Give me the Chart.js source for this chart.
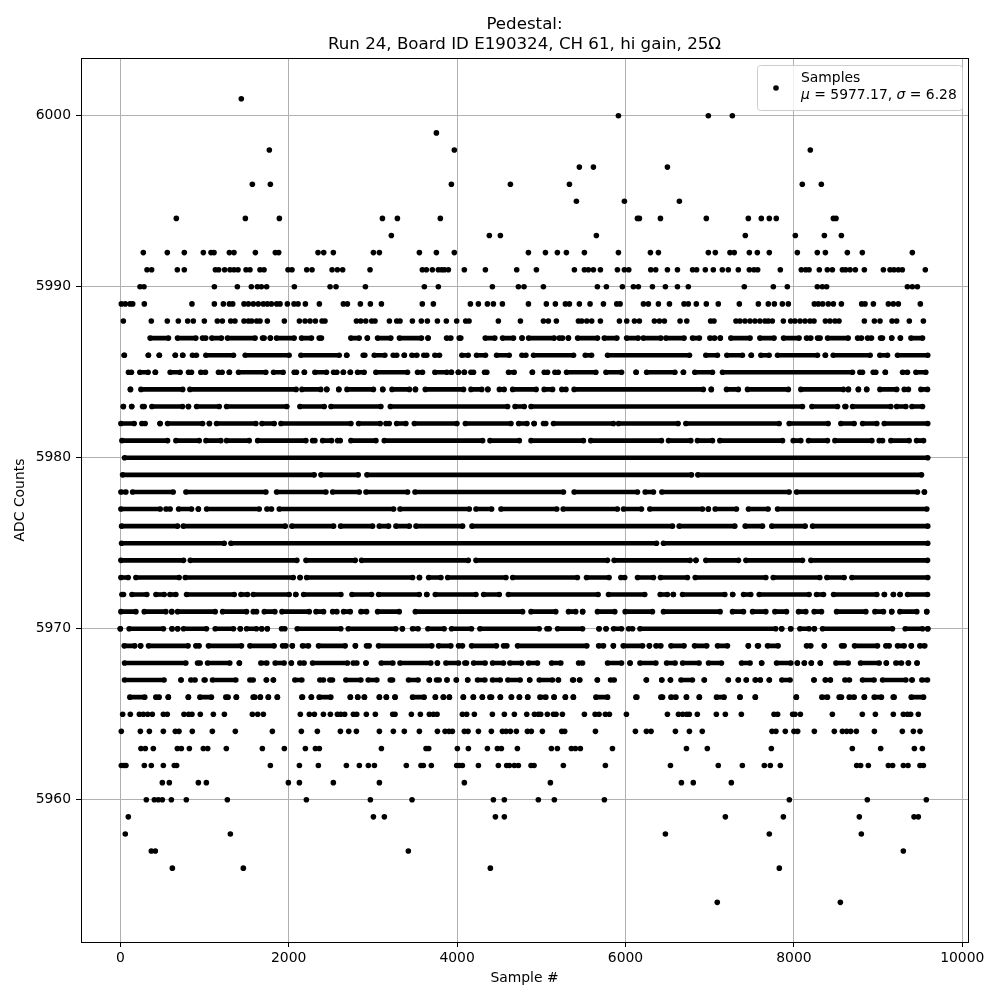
<!DOCTYPE html>
<html>
<head>
<meta charset="utf-8">
<title>Pedestal</title>
<script src="https://cdn.jsdelivr.net/npm/chart.js@4/dist/chart.umd.min.js"></script>
<style>
  html, body { margin: 0; background: #fff; }
  canvas { display: block; }
</style>
</head>
<body>
<canvas id="chart" width="1000" height="1000"></canvas>
<script>
const titleLines = ['Pedestal:', 'Run 24, Board ID E190324, CH 61, hi gain, 25Ω'];
const xTickValues = [0, 2000, 4000, 6000, 8000, 10000];
const yTickValues = [5960, 5970, 5980, 5990, 6000];

// Sparse rows: sample numbers, one per visible dot
const s6001 = [1437];
const s6000 = [5916, 6984, 7269];
const s5999 = [3754];
const s5998 = [1770, 3967, 8195];
const s5997 = [5452, 5619, 6498];
const s5996 = [1568, 1782, 3932, 4633, 5334, 8100, 8326];
const s5995 = [5417, 5987, 6640];
const s5994 = [665, 1485, 1889, 3113, 3291, 3801, 6142, 6165, 6415, 6960, 7459, 7613, 7708, 7791, 8469, 8500];
const s5993 = [3219, 4383, 4514, 5654, 7423, 8017, 8362, 8564];
const s5992 = [273, 558, 760, 986, 1077, 1113, 1295, 1350, 1604, 1841, 1881, 2348, 2416, 2530, 3006, 3077, 3552, 3754, 3967, 4847, 5049, 5191, 5298, 5512, 5916, 6296, 6391, 6984, 7067, 7241, 7292, 7471, 7566, 7708, 8041, 8278, 8374, 8635, 8813, 9407];
const s5991 = [317, 372, 677, 760, 1129, 1168, 1239, 1303, 1350, 1398, 1493, 1540, 1659, 1707, 1992, 2039, 2214, 2277, 2515, 2578, 2641, 2966, 3587, 3635, 3706, 3777, 3817, 3849, 3896, 4086, 4336, 4708, 4942, 5393, 5512, 5559, 5619, 5702, 5904, 5987, 6039, 6300, 6359, 6498, 6617, 6797, 6845, 6948, 7043, 7150, 7221, 7340, 7471, 7526, 7570, 7839, 8088, 8140, 8180, 8302, 8397, 8457, 8576, 8615, 8667, 8730, 8837, 9063, 9142, 9189, 9241, 9288, 9561];
const s5990 = [234, 281, 1117, 1390, 1556, 1628, 1675, 1738, 2067, 2491, 2562, 2911, 3611, 3777, 4419, 4728, 4795, 5025, 5666, 5773, 5963, 6094, 6153, 6320, 6474, 6617, 6746, 7411, 7756, 7922, 8278, 8338, 8389, 9348, 9407, 9467];
const s5989 = [12, 59, 115, 147, 285, 851, 1117, 1224, 1295, 1335, 1469, 1521, 1580, 1639, 1699, 1746, 1794, 1857, 1897, 1984, 2063, 2111, 2198, 2364, 2649, 2697, 2851, 2970, 3101, 3587, 3718, 4158, 4253, 4360, 4431, 4538, 4847, 5060, 5167, 5286, 5334, 5452, 5579, 5738, 5896, 5936, 6213, 6272, 6391, 6522, 6695, 6746, 6841, 6960, 7102, 7352, 7578, 7696, 7768, 7863, 7934, 8243, 8290, 8342, 8409, 8469, 8564, 8805, 8845, 8944, 9122, 9181, 9241, 9502];
const s5988 = [36, 368, 558, 689, 800, 867, 998, 1152, 1212, 1311, 1362, 1469, 1521, 1560, 1620, 1659, 1746, 1948, 2127, 2194, 2253, 2317, 2396, 2431, 2804, 2855, 2915, 2986, 3025, 3196, 3283, 3322, 3469, 3575, 3647, 3766, 3872, 3995, 4102, 4142, 4490, 4752, 5025, 5084, 5179, 5441, 5480, 5540, 5599, 5702, 5928, 6015, 6106, 6165, 6343, 6403, 6462, 6648, 6728, 7011, 7051, 7312, 7360, 7419, 7479, 7538, 7597, 7657, 7696, 7744, 7875, 7962, 8013, 8073, 8132, 8191, 8239, 8374, 8429, 8488, 8536, 8837, 8956, 9023, 9166, 9221, 9371, 9538];
const s5965 = [28, 119, 226, 273, 325, 380, 511, 558, 756, 812, 851, 950, 1105, 1236, 1568, 1632, 1699, 2138, 2245, 2305, 2412, 2495, 2578, 2618, 2665, 2768, 2808, 2922, 3029, 3235, 3263, 3457, 3564, 3670, 3718, 3762, 4063, 4114, 4205, 4419, 4561, 4680, 4827, 4918, 4965, 4993, 5072, 5144, 5175, 5251, 5512, 5639, 5686, 5761, 5809, 6011, 6498, 6629, 6680, 6728, 6758, 6853, 7079, 7186, 7376, 7764, 7807, 7985, 8013, 8077, 8457, 8813, 8968, 9181, 9300, 9348, 9387, 9478];
const s5964 = [12, 238, 345, 511, 653, 697, 855, 1093, 1366, 1806, 2150, 2340, 2614, 2713, 2804, 3077, 3243, 3373, 3552, 3766, 3857, 3904, 3944, 4086, 4130, 4253, 4407, 4538, 4581, 4633, 4704, 4835, 4882, 5013, 5243, 5278, 5643, 6118, 6248, 6304, 6593, 6759, 6912, 7740, 7787, 7898, 8001, 8045, 8243, 8480, 8576, 8627, 8675, 8742, 8956, 9288, 9419, 9498];
const s5963 = [245, 297, 392, 677, 725, 820, 986, 1038, 1259, 1687, 1948, 2198, 2317, 2364, 3101, 3631, 3663, 4003, 4134, 4360, 4478, 4526, 4716, 5120, 5191, 5357, 5405, 5464, 5845, 6724, 6972, 7732, 8694, 9031, 9431, 9526];
const s5962 = [12, 44, 67, 285, 368, 511, 641, 669, 1782, 2127, 2352, 2685, 2839, 2946, 3018, 3397, 3571, 3599, 3694, 3995, 4027, 4063, 4253, 4490, 4589, 4621, 4680, 4728, 4878, 4914, 5262, 5761, 6534, 7102, 7388, 7649, 7720, 7839, 8746, 8793, 8884, 9122, 9173, 9300, 9356, 9498, 9538];
const s5961 = [499, 582, 927, 1022, 1996, 2127, 2530, 3077, 4086, 5108, 6664, 6805, 7257];
const s5960 = [309, 404, 451, 499, 606, 784, 1271, 2210, 2970, 3465, 4431, 4561, 4965, 5155, 5749, 7946, 8872, 9573];
const s5959 = [95, 3006, 3136, 4455, 4561, 7186, 7875, 8777, 9427, 9478];
const s5958 = [59, 1307, 6474, 7708, 8801];
const s5957 = [368, 416, 3421, 9300];
const s5956 = [618, 1461, 4395, 7827];
const s5954 = [7090, 8552];

// Dense rows: the dots overlap into bars, so each entry is one unbroken stretch
// [first sample, last sample] as seen in the picture, not every single sample
const r5987 = [[354, 572], [679, 897], [976, 1015], [1087, 1201], [1273, 1601], [1689, 1708], [1782, 1782], [1855, 2065], [2152, 2270], [2362, 2389], [2738, 2837], [2934, 2934], [3055, 3213], [3315, 3577], [3655, 3655], [3875, 3926], [4025, 4044], [4334, 4448], [4540, 4670], [4771, 4771], [4849, 5153], [5213, 5252], [5322, 5322], [5431, 5668], [5748, 5898], [6013, 6151], [6211, 6420], [6480, 6696], [6796, 6878], [7002, 7060], [7126, 7126], [7251, 7480], [7596, 7765], [7877, 8062], [8150, 8201], [8281, 8312], [8400, 8645], [8756, 8803], [8875, 8922], [9029, 9052], [9162, 9162], [9265, 9265], [9390, 9528]];
const r5986 = [[47, 47], [333, 333], [463, 463], [653, 653], [741, 741], [857, 904], [1016, 1344], [1483, 2005], [2145, 2600], [2689, 2689], [2885, 2904], [3016, 3142], [3241, 3283], [3373, 3373], [3463, 3522], [3605, 3640], [3736, 3791], [4057, 4132], [4231, 4337], [4469, 4619], [4770, 4817], [4908, 5383], [5522, 5597], [5787, 6760], [6954, 7092], [7204, 7389], [7494, 7494], [7608, 7706], [7806, 8280], [8374, 8374], [8467, 8906], [9021, 9112], [9231, 9590]];
const r5985 = [[97, 132], [232, 330], [416, 416], [592, 710], [810, 845], [956, 1011], [1166, 1209], [1295, 1295], [1404, 1728], [1820, 1934], [2065, 2092], [2186, 2186], [2311, 2449], [2533, 2571], [2649, 2649], [2732, 2732], [2818, 2896], [3035, 3411], [3530, 3589], [3736, 3878], [3932, 3932], [4015, 4015], [4086, 4086], [4164, 4195], [4326, 4353], [4611, 4678], [4894, 4894], [5035, 5074], [5162, 5201], [5300, 5648], [5768, 5953], [6126, 6126], [6251, 6587], [6688, 6688], [6823, 7033], [7152, 8696], [8784, 8815], [8942, 8973], [9086, 9086], [9291, 9349], [9449, 9567]];
const r5984 = [[120, 120], [245, 741], [827, 2088], [2157, 2381], [2452, 2452], [2595, 2595], [2692, 3006], [3117, 3117], [3227, 3434], [3505, 3505], [3622, 4076], [4165, 4293], [4365, 4365], [4502, 4559], [4660, 4939], [5034, 5134], [5244, 5293], [5390, 6924], [7019, 7019], [7200, 7340], [7449, 7934], [8083, 8588], [8647, 8647], [8766, 8766], [8865, 8865], [9022, 9221], [9311, 9360], [9509, 9587]];
const r5983 = [[36, 36], [135, 135], [264, 284], [375, 739], [809, 809], [906, 1175], [1262, 1978], [2133, 2422], [2502, 3095], [3207, 4600], [4688, 4798], [4878, 8102], [8214, 8518], [8606, 8617], [8697, 9152], [9220, 9330], [9402, 9528]];
const r5982 = [[7, 165], [256, 295], [472, 472], [561, 977], [1058, 1058], [1143, 1610], [1682, 1828], [1908, 2739], [2830, 3087], [3155, 3194], [3282, 3392], [3492, 3998], [4098, 4640], [4731, 4830], [4915, 4915], [5026, 5053], [5145, 5857], [5917, 6625], [6717, 7825], [7944, 8407], [8558, 8716], [8816, 8985], [9073, 9590]];
const r5981 = [[19, 561], [660, 937], [1017, 1194], [1262, 1531], [1631, 2204], [2284, 2311], [2403, 2509], [2581, 2612], [2739, 3036], [3135, 4303], [4391, 4739], [4878, 5500], [5588, 6427], [6511, 6776], [6855, 7033], [7121, 7865], [7992, 8082], [8174, 8399], [8487, 8926], [9014, 9053], [9152, 9369], [9457, 9540]];
const r5980 = [[50, 9590]];
const r5979 = [[27, 2303], [2383, 2826], [2929, 6784], [6859, 9516]];
const r5978 = [[7, 66], [146, 628], [779, 1729], [1856, 2442], [2522, 2838], [2918, 3412], [3500, 5263], [5390, 6142], [6234, 6332], [6432, 7944], [8032, 9468], [9550, 9550]];
const r5977 = [[7, 474], [542, 592], [692, 846], [927, 927], [1025, 1650], [1741, 1796], [1888, 3246], [3322, 4145], [4224, 4410], [4521, 5184], [5260, 5904], [5976, 6190], [6289, 6914], [6984, 6984], [7065, 7318], [7461, 7694], [7806, 9579]];
const r5976 = [[15, 680], [748, 1959], [2038, 2533], [2617, 2996], [3076, 3186], [3274, 3432], [3512, 4065], [4177, 6558], [6638, 7298], [7422, 7627], [7738, 8134], [8222, 9590]];
const r5975 = [[15, 1234], [1314, 6368], [6451, 9590]];
const r5974 = [[7, 751], [831, 2097], [2205, 2790], [2866, 4133], [4224, 5786], [5865, 6768], [6837, 6837], [6954, 7342], [7430, 8102], [8202, 9587]];
const r5973 = [[7, 94], [185, 699], [771, 2054], [2135, 2135], [2213, 3471], [3553, 3553], [3662, 3808], [3888, 4580], [4660, 5429], [5537, 5805], [5945, 5991], [6143, 6332], [6416, 6736], [6828, 7667], [7754, 8308], [8392, 8597], [8689, 9590]];
const r5972 = [[19, 38], [138, 315], [423, 521], [589, 660], [787, 1353], [1433, 1511], [1579, 2006], [2084, 2084], [2177, 2620], [2751, 2984], [3068, 3551], [3640, 3640], [3741, 4224], [4315, 4501], [4609, 5675], [5798, 6229], [6412, 6498], [6568, 6568], [6677, 7180], [7273, 7273], [7402, 7488], [7588, 8181], [8269, 8352], [8471, 8985], [9075, 9075], [9182, 9182], [9261, 9261], [9350, 9587]];
const r5971 = [[7, 185], [284, 541], [611, 611], [680, 1127], [1215, 1499], [1579, 1618], [1710, 1836], [1920, 2244], [2324, 2414], [2522, 2572], [2652, 2731], [2858, 2925], [3056, 3313], [3504, 4778], [4878, 5172], [5323, 5409], [5491, 5491], [5667, 5873], [5996, 6320], [6451, 7124], [7271, 7401], [7509, 7667], [7774, 7912], [8055, 8142], [8241, 8328], [8507, 8855], [8962, 9064], [9162, 9162], [9259, 9460], [9578, 9578]];
const r5970 = [[0, 0], [105, 512], [614, 614], [681, 681], [750, 1023], [1127, 1344], [1425, 1425], [1499, 1617], [1679, 1679], [1746, 1746], [1915, 1954], [2101, 2619], [2707, 3272], [3350, 3350], [3471, 3537], [3653, 3846], [3934, 4171], [4271, 4975], [5067, 5094], [5193, 5490], [5686, 5686], [5769, 5769], [5859, 5953], [6037, 6084], [6172, 7785], [7855, 7855], [7962, 7962], [8071, 8181], [8243, 8243], [8340, 9171], [9322, 9528], [9590, 9590]];
const r5969 = [[46, 172], [241, 241], [335, 805], [897, 936], [1047, 1439], [1539, 1827], [1927, 1966], [2043, 2043], [2164, 2235], [2354, 2671], [2792, 2792], [2924, 2956], [3067, 3700], [3780, 3926], [4017, 4064], [4172, 4468], [4552, 4591], [4718, 5541], [5681, 5739], [5856, 5856], [5973, 6203], [6284, 6284], [6362, 6420], [6540, 6696], [6820, 6965], [7093, 7211], [7459, 7459], [7568, 7579], [7687, 7813], [8150, 8201], [8362, 8362], [8566, 8597], [8720, 8993], [9092, 9132], [9231, 9310], [9395, 9395], [9496, 9555]];
const r5968 = [[50, 778], [917, 948], [1036, 1300], [1414, 1414], [1669, 1740], [1839, 1946], [2031, 2031], [2132, 2183], [2283, 2698], [2766, 2809], [2918, 2918], [3099, 3237], [3322, 3688], [3766, 3766], [3867, 4017], [4092, 4112], [4196, 4333], [4421, 4551], [4627, 4765], [4849, 4955], [5122, 5232], [5443, 5490], [5787, 5953], [6054, 6054], [6172, 6361], [6488, 6590], [6678, 6874], [6986, 7140], [7378, 7480], [7617, 7617], [7794, 7963], [8041, 8041], [8124, 8124], [8207, 8207], [8314, 8314], [8499, 8645], [8792, 9013], [9098, 9098], [9211, 9278], [9360, 9360], [9463, 9463]];
const r5967 = [[50, 520], [721, 721], [838, 888], [996, 1007], [1095, 1372], [1539, 1578], [1735, 1735], [1818, 1818], [2073, 2156], [2370, 2413], [2489, 2520], [2679, 2857], [2944, 3047], [3206, 3233], [3423, 3537], [3670, 3670], [3756, 3787], [3880, 3880], [3991, 3991], [4126, 4126], [4243, 4330], [4421, 4512], [4603, 4749], [4862, 4862], [4976, 5133], [5203, 5203], [5372, 5383], [5456, 5456], [5666, 5666], [5823, 5866], [6248, 6248], [6431, 6431], [6534, 6534], [6659, 6795], [6936, 6936], [7221, 7221], [7340, 7340], [7435, 7435], [7542, 7542], [7601, 7601], [7708, 7708], [7857, 7955], [8239, 8239], [8374, 8374], [8433, 8433], [8606, 8660], [8815, 8953], [9053, 9330], [9403, 9403], [9520, 9587]];
const r5966 = [[113, 290], [422, 461], [570, 570], [808, 808], [945, 1082], [1253, 1280], [1378, 1378], [1578, 1597], [1663, 1663], [1758, 1758], [1865, 1865], [2156, 2164], [2269, 2269], [2362, 2500], [2732, 2732], [2820, 2820], [2899, 2899], [3077, 3077], [3160, 3160], [3263, 3263], [3471, 3609], [3742, 3742], [3837, 3837], [3908, 3908], [4074, 4074], [4193, 4193], [4300, 4300], [4390, 4409], [4514, 4514], [4645, 4645], [4740, 4740], [4839, 4839], [4984, 5054], [5152, 5152], [5286, 5286], [5381, 5381], [5649, 5787], [6124, 6135], [6421, 6440], [6540, 6599], [6724, 6724], [6877, 6877], [7081, 7171], [7360, 7360], [7542, 7542], [8029, 8029], [8332, 8399], [8538, 8565], [8657, 8716], [8837, 8837], [8954, 9040], [9180, 9191], [9394, 9540]];

const dotRows = [[6001, s6001], [6000, s6000], [5999, s5999], [5998, s5998], [5997, s5997], [5996, s5996], [5995, s5995], [5994, s5994], [5993, s5993], [5992, s5992], [5991, s5991], [5990, s5990], [5989, s5989], [5988, s5988], [5965, s5965], [5964, s5964], [5963, s5963], [5962, s5962], [5961, s5961], [5960, s5960], [5959, s5959], [5958, s5958], [5957, s5957], [5956, s5956], [5954, s5954]];
const runRows = [[5987, r5987], [5986, r5986], [5985, r5985], [5984, r5984], [5983, r5983], [5982, r5982], [5981, r5981], [5980, r5980], [5979, r5979], [5978, r5978], [5977, r5977], [5976, r5976], [5975, r5975], [5974, r5974], [5973, r5973], [5972, r5972], [5971, r5971], [5970, r5970], [5969, r5969], [5968, r5968], [5967, r5967], [5966, r5966]];

const fontName = '"DejaVu Sans", sans-serif';

const dotPoints = [];
dotRows.forEach(([adc, samples]) => samples.forEach(x => dotPoints.push({ x: x, y: adc })));

// A null y breaks the line between two stretches
const runPoints = [];
runRows.forEach(([adc, runs]) => runs.forEach(([a, b]) => {
    runPoints.push({ x: a, y: adc }, { x: b, y: adc }, { x: b, y: null });
}));

// Matplotlib style legend inside the axes, Chart.js only places its own outside
const sampleLegend = {
    id: 'sampleLegend',
    afterDraw(chart) {
        const ctx = chart.ctx;
        ctx.save();
        ctx.beginPath();
        ctx.roundRect(757.5, 65.5, 205, 45, 3);
        ctx.fillStyle = 'rgba(255,255,255,0.8)';
        ctx.fill();
        ctx.strokeStyle = '#cccccc';
        ctx.lineWidth = 1;
        ctx.stroke();

        ctx.fillStyle = '#000';
        ctx.beginPath();
        ctx.arc(776, 88, 2.8, 0, Math.PI * 2);
        ctx.fill();

        ctx.textBaseline = 'alphabetic';
        ctx.textAlign = 'left';
        ctx.font = '13.9px ' + fontName;
        ctx.fillText('Samples', 801, 82);

        let x = 801;
        [['μ', true], [' = 5977.17, ', false], ['σ', true], [' = 6.28', false]].forEach(([part, italic]) => {
            ctx.font = (italic ? 'italic ' : '') + '13.9px ' + fontName;
            ctx.fillText(part, x, 99);
            x += ctx.measureText(part).width;
        });
        ctx.restore();
    }
};

new Chart(document.getElementById('chart'), {
    type: 'scatter',
    data: {
        datasets: [{
            label: 'Samples',
            data: dotPoints,
            showLine: false,
            pointRadius: 2.8,
            pointBorderWidth: 0,
            pointBackgroundColor: '#000'
        }, {
            label: 'Samples, dense rows',
            data: runPoints,
            showLine: true,
            spanGaps: false,
            borderColor: '#000',
            borderWidth: 4.6,
            pointRadius: 2.8,
            pointBorderWidth: 0,
            pointBackgroundColor: '#000'
        }]
    },
    options: {
        responsive: false,
        animation: false,
        layout: { padding: { right: 32, bottom: 0 } },
        plugins: {
            legend: { display: false },
            tooltip: { enabled: false },
            title: {
                display: true,
                fullSize: false,
                text: titleLines,
                color: '#000',
                font: { family: fontName, size: 16.67, weight: 'normal', lineHeight: 1.2 },
                padding: { top: 15, bottom: 3 }
            }
        },
        scales: {
            x: {
                type: 'linear',
                min: -467,
                max: 10068,
                afterFit(scale) { scale.height = 58; },
                afterBuildTicks(scale) { scale.ticks = xTickValues.map(v => ({ value: v })); },
                title: { display: true, text: 'Sample #', color: '#000', font: { family: fontName, size: 13.9 }, padding: { top: 2, bottom: 13 } },
                ticks: { color: '#000', font: { family: fontName, size: 13.9 }, padding: 3, maxRotation: 0, callback: v => String(v) },
                grid: { color: '#b0b0b0', lineWidth: 1, tickColor: '#000', tickLength: 5 },
                border: { color: '#000', width: 1 }
            },
            y: {
                type: 'linear',
                min: 5951.68,
                max: 6003.38,
                afterFit(scale) { scale.width = 81; },
                afterBuildTicks(scale) { scale.ticks = yTickValues.map(v => ({ value: v })); },
                title: { display: true, text: 'ADC Counts', color: '#000', font: { family: fontName, size: 13.9 }, padding: { top: 12, bottom: 2 } },
                ticks: { color: '#000', font: { family: fontName, size: 13.9 }, padding: 5, callback: v => String(v) },
                grid: { color: '#b0b0b0', lineWidth: 1, tickColor: '#000', tickLength: 5 },
                border: { color: '#000', width: 1 }
            }
        }
    },
    plugins: [sampleLegend, {
        // Closes the axes box on the top and right like the reference
        id: 'axesFrame',
        afterDatasetsDraw(chart) {
            const { left, top, right, bottom } = chart.chartArea;
            const ctx = chart.ctx;
            ctx.save();
            ctx.strokeStyle = '#000';
            ctx.lineWidth = 1;
            ctx.strokeRect(Math.round(left) + 0.5, Math.round(top) + 0.5, Math.round(right - left), Math.round(bottom - top));
            ctx.restore();
        }
    }]
});
</script>
</body>
</html>
